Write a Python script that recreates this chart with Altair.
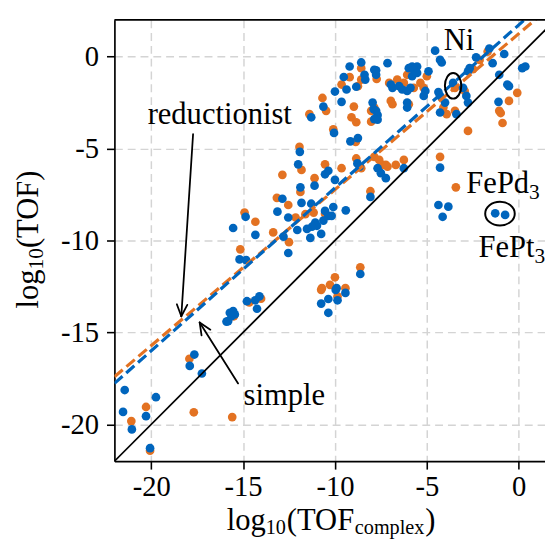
import altair as alt
import pandas as pd
import numpy as np

# ---------------- data ----------------
# "simple" model (blue)
blue_x = [-21.44, -21.53, -21.05, -20.28, -19.74, -20.06, -17.65, -17.9, -17.24, -15.72,
          -15.54, -15.45, -15.9, -15.63, -15.81, -14.79, -14.11, -14.24, -14.34,
          -11.91, -12.0, -10.36, -10.54, -10.0, -11.11, -11.88, -8.78, -8.66, -7.68,
          -7.5, -7.23, -8.07, -12.86, -11.82, -13.13, -11.29, -10.09, -9.41, -10.54,
          -10.36, -10.18, -12.54, -11.07, -10.98, -11.25, -11.52, -12.05, -10.63, -14.86,
          -15.54, -14.33, -12.8, -11.34, -10.75, -12.54, -15.19, -14.83, -8.62, -9.91,
          -9.43, -9.96, -10.36, -9.86, -10.75, -10.36,
          -4.37, -3.83, -4.14, -1.28, -0.74,
          -9.2, -8.57, -7.76, -9.52, -8.39, -8.35, -9.37, -10.0, -8.84, -10.63,
          -9.64, -7.95, -7.89, -7.68, -7.68, -11.29, -10.05, -9.16, -8.75,
          -4.55, -7.14, -4.28, -4.19, -1.6, -0.79, -2.32, -1.42, 0.36, 0.19,
          -2.67, -2.76, -5.98, -5.8, -5.53, -5.71, -5.8, -5.53, -4.91, -7.86,
          -7.76, -6.96, -6.87, -6.51, -6.34, -6.07, -5.89, -5.08, -5.17, -4.37,
          -4.28, -6.07, -6.07, -7.76, -7.86, -3.57, -3.03, -2.85, -2.76, -4.01,
          -4.28, -3.39, -1.06, -0.62, -0.53, -1.1, -6.25, -4.28]
blue_y = [-18.13, -19.32, -20.27, -19.55, -18.52, -21.29, -16.2, -16.82, -17.23, -13.93,
          -13.84, -14.02, -14.41, -14.11, -14.38, -13.3, -13.04, -13.71, -13.25,
          -5.18, -5.86, -6.21, -6.4, -6.7, -7.02, -7.11, -5.81, -5.98, -6.07,
          -6.34, -6.61, -7.63, -7.73, -7.95, -8.43, -8.0, -8.18, -8.36, -8.39,
          -8.66, -8.66, -8.75, -9.02, -9.2, -9.25, -9.37, -9.43, -8.92, -8.71,
          -9.32, -9.69, -9.79, -9.86, -9.64, -10.68, -11.03, -11.07, -11.82, -12.59,
          -12.85, -12.68, -13.18, -13.25, -13.43, -13.93,
          -8.07, -8.16, -8.71, -8.52, -8.61,
          -0.54, -0.32, -0.75, -1.11, -0.99, -1.25, -1.79, -1.9, -1.64, -2.72,
          -2.46, -2.5, -2.86, -3.18, -3.43, -3.3, -4.15, -4.61, -4.43,
          0.32, -0.36, -0.18, -0.32, 0.44, 0.14, -0.04, -0.36, -0.54, -0.63,
          -0.63, -0.8, -0.63, -0.54, -0.54, -0.72, -1.07, -0.89, -0.8, -0.72,
          -0.99, -1.52, -1.7, -1.61, -1.79, -1.87, -1.7, -1.87, -2.14, -1.93,
          -2.14, -2.5, -2.77, -2.95, -3.4, -1.43, -1.7, -2.14, -2.5, -2.5,
          -3.04, -3.13, -0.99, -1.52, -1.61, -2.46, -6.07, -6.04]

# "reductionist" model (orange)
orange_x = [-21.08, -20.28, -20.06, -17.92, -17.68, -15.59, -15.5, -14.66, -14.02,
            -11.82, -12.86, -10.54, -9.64, -11.11, -11.88, -8.84, -8.57, -7.41, -7.14,
            -8.07, -13.16, -12.54, -11.61, -11.16, -10.54, -12.14, -14.92, -14.33, -13.36,
            -12.5, -15.15, -8.62, -10.0, -10.27, -10.71, -9.43, -10.75, -9.86,
            -3.42,
            -8.57, -7.73, -9.2, -9.64, -8.75, -10.68, -10.48, -8.97, -8.03, -8.03,
            -9.1, -8.84, -11.39, -10.09, -8.87, -11.93, -8.57,
            -6.07, -5.0, -5.35, -7.05, -6.61, -6.25, -5.71, -5.17, -6.96, -6.87,
            -3.47, -3.47, -3.92, -4.1, -0.08, -0.53, -1.06, -0.98, -0.88, -2.76,
            -7.86, -7.59, -6.69, -6.25, -4.28, -1.69, -2.13, -2.94, -7.86, -5.98,
            -2.49, -7.23]
orange_y = [-19.82, -19.05, -21.43, -16.43, -19.34, -19.6, -14.12, -13.37, -13.16,
            -6.16, -6.43, -5.86, -6.07, -6.61, -7.36, -5.54, -6.07, -5.89, -5.98,
            -7.32, -7.68, -8.07, -8.57, -8.48, -8.54, -8.75, -8.48, -8.98, -9.56,
            -10.09, -10.48, -11.46, -12.0, -12.41, -12.59, -12.59, -12.68, -13.04,
            -7.11,
            -0.63, -1.22, -1.12, -1.52, -1.61, -2.25, -2.95, -2.72, -2.95, -3.54,
            -3.3, -3.57, -3.13, -3.96, -4.64, -4.91, -1.25,
            -0.99, -1.07, -1.43, -1.43, -1.25, -1.43, -1.7, -1.7, -2.41, -2.59,
            -1.7, -2.95, -3.13, -2.77, -1.97, -2.41, -2.95, -3.07, -3.61, -4.04,
            -5.45, -5.62, -5.89, -5.62, -5.45, 0.27, -0.18, -1.87, -2.77, -2.59,
            -0.68, -5.89]

# fitted lines (end points) and parity line
fit_x = [-22.0, 2.0]
fit_blue_y = [-17.77, 3.49]
fit_orange_y = [-17.41, 2.94]
parity = [-22.0, 2.0]

tick_values = [-20, -15, -10, -5, 0]

# ---------------- styling ----------------
W, H = 437, 448
XDOM = [-22, 1.43]
YDOM = [-22, 2]
FONT = "Liberation Serif"
BLUE = "#0065BD"
ORANGE = "#E37222"
FS = 31
FSS = 20.5


def axis_kw(orient):
    return dict(values=tick_values, title=None, labelExpr="datum.value + ''",
                grid=True, gridColor="#d4d4d4", gridDash=[8, 5], gridWidth=1.5,
                domainColor="black", domainWidth=1.7, tickColor="black", tickWidth=1.6,
                tickSize=8, labelFont=FONT, labelFontSize=29, labelColor="black",
                labelPadding=4 if orient == "x" else 8, labelFlush=False,
                labelOverlap=False)


def X(field):
    return alt.X(field, type="quantitative", scale=alt.Scale(domain=XDOM, nice=False, zero=False),
                 axis=alt.Axis(**axis_kw("x")))


def Y(field):
    return alt.Y(field, type="quantitative", scale=alt.Scale(domain=YDOM, nice=False, zero=False),
                 axis=alt.Axis(**axis_kw("y")))


orange_df = pd.DataFrame({"x": orange_x, "y": orange_y})
blue_df = pd.DataFrame({"x": blue_x, "y": blue_y})

orange_pts = alt.Chart(orange_df).mark_circle(size=78, opacity=1, color=ORANGE).encode(x=X("x"), y=Y("y"))
blue_pts = alt.Chart(blue_df).mark_circle(size=78, opacity=1, color=BLUE).encode(x=X("x"), y=Y("y"))

par_df = pd.DataFrame({"x": parity, "y": parity})
par_line = alt.Chart(par_df).mark_line(color="black", strokeWidth=1.8, clip=True).encode(x=X("x"), y=Y("y"))

fo_df = pd.DataFrame({"x": fit_x, "y": fit_orange_y})
fb_df = pd.DataFrame({"x": fit_x, "y": fit_blue_y})
fit_orange = alt.Chart(fo_df).mark_line(color=ORANGE, strokeWidth=3.2, strokeDash=[11, 5], clip=True).encode(x=X("x"), y=Y("y"))
fit_blue = alt.Chart(fb_df).mark_line(color=BLUE, strokeWidth=3.2, strokeDash=[11, 5], clip=True).encode(x=X("x"), y=Y("y"))

# ellipses around Ni and FePt3
ell_ni = alt.Chart(pd.DataFrame({"x": [-3.57], "y": [-1.59]})).mark_point(
    shape="M -0.64 0 A 0.64 1 0 1 1 0.64 0 A 0.64 1 0 1 1 -0.64 0 Z",
    size=676, filled=False, color="black", strokeWidth=2, opacity=1).encode(x=X("x"), y=Y("y"))
ell_fept = alt.Chart(pd.DataFrame({"x": [-1.02], "y": [-8.54]})).mark_point(
    shape="M -1.25 0 A 1.25 1 0 1 1 1.25 0 A 1.25 1 0 1 1 -1.25 0 Z",
    size=576, filled=False, color="black", strokeWidth=2, opacity=1).encode(x=X("x"), y=Y("y"))

# arrows (shaft + open head)
arrows = [((-17.72, -4.22), (-18.36, -14.12)),
          ((-15.27, -17.77), (-17.36, -14.46))]
segs = []
for (x0, y0), (x1, y1) in arrows:
    segs.append((x0, y0, x1, y1))
    d = np.array([x0 - x1, y0 - y1])
    d = d / np.linalg.norm(d) * 0.7
    for a in (np.radians(24), -np.radians(24)):
        r = np.array([[np.cos(a), -np.sin(a)], [np.sin(a), np.cos(a)]]) @ d
        segs.append((x1, y1, x1 + r[0], y1 + r[1]))
seg_df = pd.DataFrame(segs, columns=["x", "y", "x2", "y2"])
arrow_layer = alt.Chart(seg_df).mark_rule(color="black", strokeWidth=1.8, strokeCap="round").encode(
    x=X("x"), y=Y("y"), x2="x2:Q", y2="y2:Q")

# annotation texts (data coordinates)
ann = pd.DataFrame({
    "x": [-16.27, -12.76, -3.25, -2.85, -2.19],
    "y": [-3.66, -18.96, 0.35, -7.43, -10.91],
    "t": ["reductionist", "simple", "Ni", "FePd", "FePt"],
    "a": ["center", "center", "center", "left", "left"],
})
ann_layers = []
for _, r in ann.iterrows():
    ann_layers.append(alt.Chart(pd.DataFrame([r])).mark_text(
        font=FONT, fontSize=FS, align=r["a"], baseline="alphabetic", color="black").encode(
        x=X("x"), y=Y("y"), text="t:N"))
subs = pd.DataFrame({"x": [0.56, 0.86], "y": [-7.75, -11.23], "t": ["3", "3"]})
sub_layer = alt.Chart(subs).mark_text(font=FONT, fontSize=21.7, align="left", baseline="alphabetic",
                                      color="black").encode(x=X("x"), y=Y("y"), text="t:N")


# axis titles built from pieces (pixel positions relative to plot area)
def piece(txt, px, py, fs, angle=0):
    return alt.Chart(pd.DataFrame({"t": [txt]})).mark_text(
        font=FONT, fontSize=fs, align="left", baseline="alphabetic", color="black", angle=angle).encode(
        x=alt.value(px), y=alt.value(py), text="t:N")


title_layers = [
    piece("log", 114, 518, FS), piece("10", 153.6, 522, FSS), piece("(TOF", 175, 518, FS),
    piece("complex", 244, 522, FSS), piece(")", 315.5, 518, FS),
    piece("log", -78, 293, FS, 270), piece("10", -72, 253.4, 21.7, 270), piece("(TOF)", -78, 231.7, FS, 270),
]

top_spine = alt.Chart(pd.DataFrame({"a": [0]})).mark_rule(color="black", strokeWidth=1.8).encode(
    x=alt.value(0), x2=alt.value(W), y=alt.value(0))

chart = alt.layer(
    orange_pts, blue_pts, par_line, fit_orange, fit_blue, ell_ni, ell_fept, arrow_layer,
    *ann_layers, sub_layer, *title_layers, top_spine
).properties(
    width=W, height=H,
    autosize=alt.AutoSizeParams(type="none"),
    padding={"left": 108, "top": 8, "right": 0, "bottom": 77},
).configure_view(stroke=None)

chart.save("out.html", embed_options={"renderer": "svg", "actions": False})
